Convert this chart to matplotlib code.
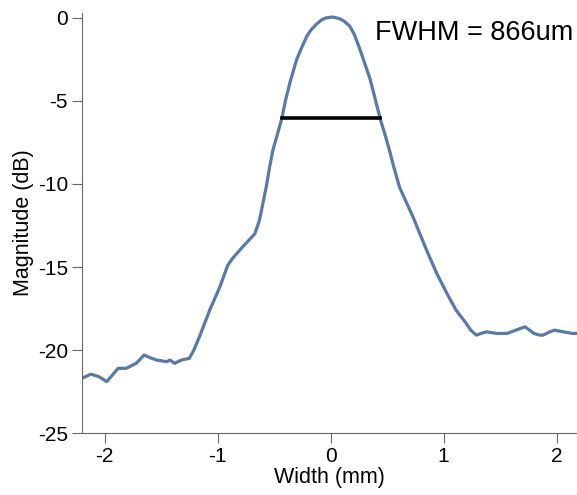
import numpy as np
import matplotlib.pyplot as plt

plt.rcParams['font.family'] = ['Liberation Sans', 'DejaVu Sans']
plt.rcParams['axes.unicode_minus'] = False

# beam profile
width_mm = [-2.20, -2.12, -2.05, -1.98, -1.93, -1.88, -1.81, -1.72, -1.65, -1.60,
            -1.54, -1.45, -1.42, -1.38, -1.32, -1.25, -1.21, -1.16, -1.07, -0.98,
            -0.91, -0.87, -0.78, -0.67, -0.63, -0.60, -0.57, -0.54, -0.51, -0.47,
            -0.43, -0.40, -0.36, -0.30, -0.25, -0.21, -0.17, -0.12, -0.08, -0.04,
            0.02, 0.08, 0.12, 0.17, 0.21, 0.26, 0.30, 0.35, 0.41, 0.44,
            0.48, 0.52, 0.56, 0.61, 0.67, 0.73, 0.85, 0.94, 1.03, 1.11,
            1.19, 1.24, 1.29, 1.33, 1.38, 1.47, 1.56, 1.64, 1.72, 1.80,
            1.85, 1.88, 1.94, 1.98, 2.06, 2.14, 2.20]
magnitude_db = [-21.7, -21.45, -21.6, -21.9, -21.5, -21.1, -21.1, -20.8, -20.3, -20.45,
                -20.6, -20.7, -20.6, -20.8, -20.6, -20.5, -20.0, -19.2, -17.6, -16.2,
                -14.9, -14.5, -13.8, -13.0, -12.2, -11.2, -10.2, -9.0, -7.95, -7.0,
                -6.0, -5.0, -3.9, -2.5, -1.7, -1.1, -0.7, -0.35, -0.12, 0.0,
                0.05, -0.05, -0.2, -0.5, -1.0, -1.9, -2.7, -3.7, -5.3, -6.1,
                -7.0, -7.95, -9.0, -10.2, -11.1, -12.0, -14.0, -15.4, -16.6, -17.6,
                -18.3, -18.8, -19.1, -19.0, -18.9, -19.0, -19.0, -18.8, -18.6, -19.0,
                -19.1, -19.1, -18.9, -18.8, -18.9, -19.0, -19.0]

fwhm_mm = 0.866
half_level = -6.0

fig = plt.figure(figsize=(5.77, 4.95), dpi=100)
ax = fig.add_axes([0.142, 0.125, 0.858, 0.849])

ax.plot(width_mm, magnitude_db, color='#5a7aa5', linewidth=2.3)
ax.plot([-fwhm_mm / 2, fwhm_mm / 2], [half_level, half_level], color='black', linewidth=2.6)

ax.text(0.39, -1.35, 'FWHM = %dum' % round(fwhm_mm * 1000), fontsize=19.5)

ax.set_xlim(-2.2, 2.18)
ax.set_ylim(-25, 0.3)
ax.set_xticks([-2, -1, 0, 1, 2])
ax.set_yticks([0, -5, -10, -15, -20, -25])
ax.set_xlabel('Width (mm)', fontsize=15.5, labelpad=1)
ax.set_ylabel('Magnitude (dB)', fontsize=15.5, labelpad=3)

for side in ['top', 'right']:
    ax.spines[side].set_visible(False)
for side in ['left', 'bottom']:
    ax.spines[side].set_color('#666666')
ax.tick_params(direction='out', length=7, pad=3, color='#666666', labelsize=15)

fig.savefig('out.png', dpi=100)
